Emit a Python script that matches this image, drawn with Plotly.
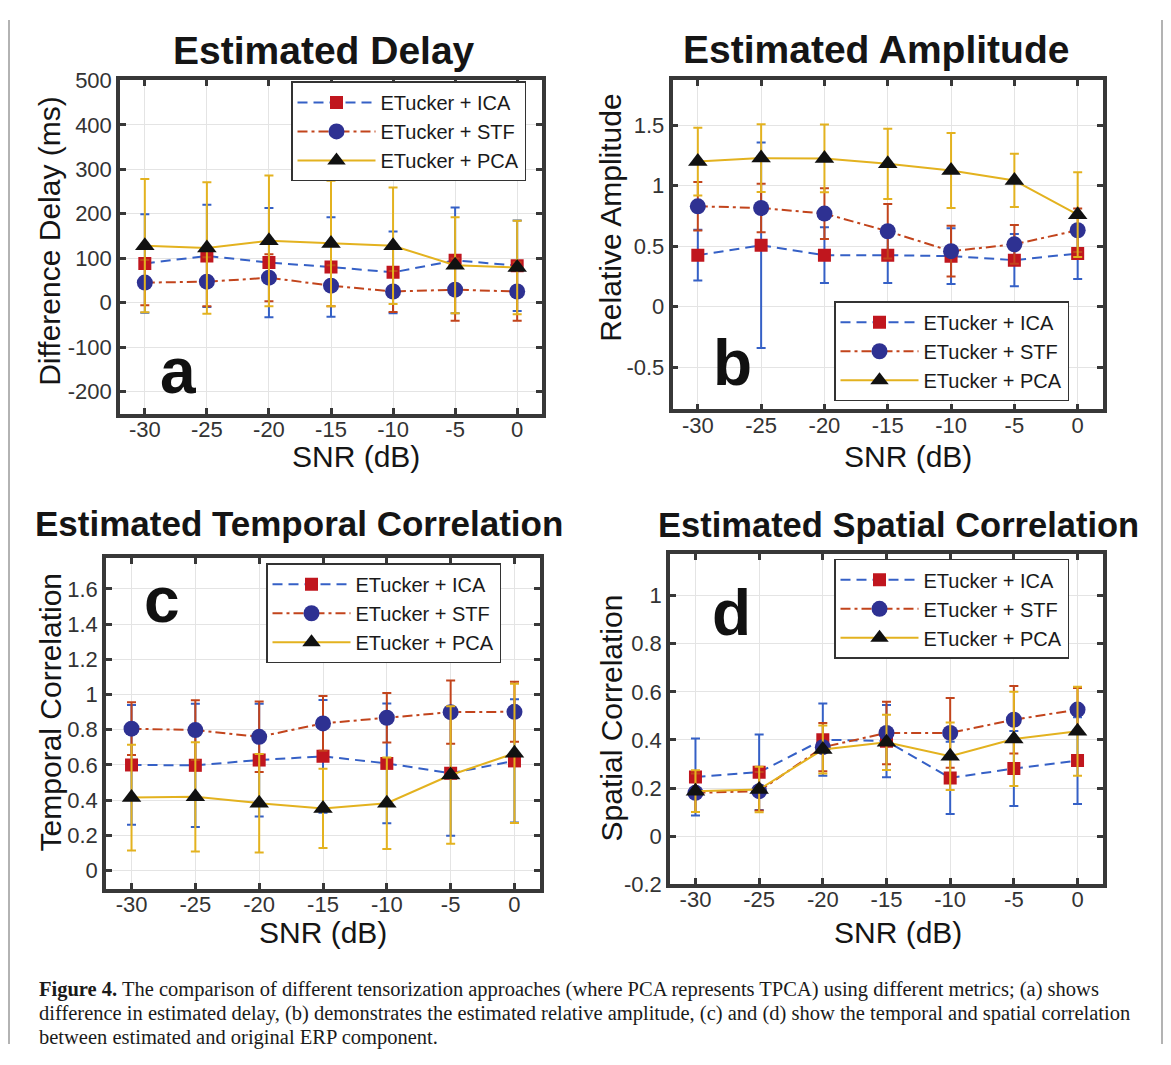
import plotly.graph_objects as go

# reference canvas size; the HTML body adds an 8px margin, so the figure is
# made 16px smaller and every reference pixel position is mapped onto it.
W, H = 1171, 1065
OFF = 8
FW, FH = W - 2 * OFF, H - 2 * OFF
# empirical vertical correction observed between page and photograph
YA, YS = 10.2, 0.977

snr = [-30, -25, -20, -15, -10, -5, 0]
names = ["ETucker + ICA", "ETucker + STF", "ETucker + PCA"]

# Panel a: Estimated Delay (ms)
a_ica = [88, 105, 90, 80, 68, 95, 83]
a_ica_err = [111, 115, 123, 112, 92, 119, 102]
a_stf = [45, 47, 56, 38, 25, 29, 25]
a_stf_err = [51, 55, 53, 46, 46, 70, 66]
a_pca = [128, 123, 139, 133, 128, 84, 79]
a_pca_err = [150, 148, 147, 141, 131, 108, 105]

# Panel b: Relative amplitude
b_ica = [0.426, 0.508, 0.426, 0.426, 0.418, 0.385, 0.44]
b_ica_err = [0.21, 0.85, 0.23, 0.23, 0.23, 0.215, 0.21]
b_stf = [0.83, 0.816, 0.77, 0.624, 0.459, 0.516, 0.632]
b_stf_err = [0.2, 0.2, 0.21, 0.225, 0.21, 0.16, 0.18]
b_pca = [1.20, 1.228, 1.225, 1.181, 1.126, 1.044, 0.761]
b_pca_err = [0.28, 0.28, 0.28, 0.29, 0.31, 0.22, 0.35]

# Panel c: Temporal correlation
c_ica = [0.60, 0.598, 0.628, 0.649, 0.609, 0.553, 0.623]
c_ica_err = [0.34, 0.35, 0.32, 0.32, 0.34, 0.355, 0.35]
c_stf = [0.806, 0.798, 0.76, 0.836, 0.868, 0.90, 0.902]
c_stf_err = [0.15, 0.17, 0.2, 0.155, 0.14, 0.18, 0.17]
c_pca = [0.415, 0.419, 0.383, 0.353, 0.383, 0.543, 0.666]
c_pca_err = [0.30, 0.31, 0.28, 0.225, 0.26, 0.39, 0.395]

# Panel d: Spatial correlation
d_ica = [0.246, 0.266, 0.401, 0.395, 0.242, 0.281, 0.314]
d_ica_err = [0.16, 0.157, 0.15, 0.15, 0.15, 0.156, 0.18]
d_stf = [0.18, 0.187, 0.37, 0.429, 0.429, 0.484, 0.526]
d_stf_err = [0.08, 0.08, 0.1, 0.13, 0.145, 0.14, 0.09]
d_pca = [0.187, 0.194, 0.36, 0.39, 0.332, 0.404, 0.436]
d_pca_err = [0.087, 0.095, 0.1, 0.115, 0.14, 0.196, 0.185]

x_ticks = [-30, -25, -20, -15, -10, -5, 0]
a_yticks = [-200, -100, 0, 100, 200, 300, 400, 500]
b_yticks = [-0.5, 0, 0.5, 1, 1.5]
b_ytext = ["-0.5", "0", "0.5", "1", "1.5"]
c_yticks = [0, 0.2, 0.4, 0.6, 0.8, 1, 1.2, 1.4, 1.6]
c_ytext = ["0", "0.2", "0.4", "0.6", "0.8", "1", "1.2", "1.4", "1.6"]
d_yticks = [-0.2, 0, 0.2, 0.4, 0.6, 0.8, 1]
d_ytext = ["-0.2", "0", "0.2", "0.4", "0.6", "0.8", "1"]

titles = ["Estimated Delay", "Estimated Amplitude",
          "Estimated Temporal Correlation", "Estimated Spatial Correlation"]
ytitles = ["Difference Delay (ms)", "Relative Amplitude",
           "Temporal Correlation", "Spatial Correlation"]
letters = ["a", "b", "c", "d"]
caption_lines = [
    "<b>Figure 4.</b> The comparison of different tensorization approaches (where PCA represents TPCA) using different metrics; (a) shows",
    "difference in estimated delay, (b) demonstrates the estimated relative amplitude, (c) and (d) show the temporal and spatial correlation",
    "between estimated and original ERP component.",
]

FONT = "Liberation Sans, Arial, Helvetica, sans-serif"
SERIF = "Liberation Serif, Times New Roman, serif"
C_ICA_LINE = "#3560c6"
C_ICA_MK = "#c0161e"
C_STF_LINE = "#c2441c"
C_STF_MK = "#2e3192"
C_PCA_LINE = "#e3b21f"
C_PCA_MK = "#111111"
FRAME = "#383838"


def px_x(p):
    return (p - OFF) / FW


def px_y(p):
    q = (p - YA) / YS
    return 1 - (q - OFF) / FH


# panel boxes in reference pixels: (left, right, top, bottom)
boxes = [(120, 542, 78.5, 412), (672.5, 1103, 78.5, 407.7),
         (106, 540, 556.7, 887.7), (670, 1103, 552.7, 883)]
yranges = [[-250, 500], [-0.848, 1.87], [-0.104, 1.774], [-0.2, 1.172]]
yticks = [(a_yticks, [str(v) for v in a_yticks]), (b_yticks, b_ytext),
          (c_yticks, c_ytext), (d_yticks, d_ytext)]

data = [
    (a_ica, a_ica_err, a_stf, a_stf_err, a_pca, a_pca_err),
    (b_ica, b_ica_err, b_stf, b_stf_err, b_pca, b_pca_err),
    (c_ica, c_ica_err, c_stf, c_stf_err, c_pca, c_pca_err),
    (d_ica, d_ica_err, d_stf, d_stf_err, d_pca, d_pca_err),
]

fig = go.Figure()

for i, (ica, ica_e, stf, stf_e, pca, pca_e) in enumerate(data):
    xa = "x" if i == 0 else f"x{i+1}"
    ya = "y" if i == 0 else f"y{i+1}"
    lg = "legend" if i == 0 else f"legend{i+1}"
    fig.add_trace(go.Scatter(
        x=snr, y=ica, name=names[0], mode="lines+markers",
        line=dict(color=C_ICA_LINE, width=2, dash="10px,6px"),
        marker=dict(symbol="square", size=13, color=C_ICA_MK, line=dict(width=0)),
        error_y=dict(type="data", array=ica_e, color=C_ICA_LINE, thickness=2, width=4.5),
        xaxis=xa, yaxis=ya, legend=lg))
    fig.add_trace(go.Scatter(
        x=snr, y=stf, name=names[1], mode="lines+markers",
        line=dict(color=C_STF_LINE, width=2, dash="10px,4px,3px,4px"),
        marker=dict(symbol="circle", size=16, color=C_STF_MK, line=dict(width=0)),
        error_y=dict(type="data", array=stf_e, color=C_STF_LINE, thickness=2, width=4.5),
        xaxis=xa, yaxis=ya, legend=lg))
    fig.add_trace(go.Scatter(
        x=snr, y=pca, name=names[2], mode="lines+markers",
        line=dict(color=C_PCA_LINE, width=2),
        marker=dict(symbol="triangle-up", size=17, color=C_PCA_MK, line=dict(width=0)),
        error_y=dict(type="data", array=pca_e, color=C_PCA_LINE, thickness=2, width=4.5),
        xaxis=xa, yaxis=ya, legend=lg))

layout = dict(
    width=FW, height=FH, margin=dict(l=0, r=0, t=0, b=0),
    paper_bgcolor="white", plot_bgcolor="white",
    font=dict(family=FONT, color="#262626"),
)

common = dict(
    ticks="inside", ticklen=6, tickwidth=3, tickcolor=FRAME,
    showline=True, linewidth=3.5, linecolor=FRAME, mirror="ticks",
    showgrid=True, gridcolor="#e4e4e4", gridwidth=1, zeroline=False,
    tickfont=dict(family=FONT, size=22, color="#333333"),
)

for i in range(4):
    l, r, t, b = boxes[i]
    xs = "xaxis" if i == 0 else f"xaxis{i+1}"
    ys = "yaxis" if i == 0 else f"yaxis{i+1}"
    anc_x = "y" if i == 0 else f"y{i+1}"
    anc_y = "x" if i == 0 else f"x{i+1}"
    layout[xs] = dict(domain=[px_x(l), px_x(r)], range=[-32, 2],
                      tickvals=x_ticks, ticktext=[str(v) for v in x_ticks],
                      anchor=anc_x, ticklabelstandoff=-7, **common)
    layout[ys] = dict(domain=[px_y(b), px_y(t)], range=yranges[i],
                      tickvals=yticks[i][0], ticktext=yticks[i][1],
                      anchor=anc_y, **common)

# legends (left, top in reference px)
leg_pos = [(291, 79.5), (834, 299.5), (266, 561.7), (834, 557.3)]
for i, (lx, ly) in enumerate(leg_pos):
    key = "legend" if i == 0 else f"legend{i+1}"
    layout[key] = dict(x=px_x(lx), y=px_y(ly), xanchor="left", yanchor="top",
                       bgcolor="white", bordercolor="#333333", borderwidth=1.5,
                       font=dict(family=FONT, size=20, color="#1a1a1a"),
                       itemwidth=78, tracegroupgap=0)

fig.update_layout(**layout)

ann = []
# titles
title_pos = [(324, 48.5, 39), (875.5, 48, 39), (299, 521.5, 35), (898.5, 523, 34.5)]
for i, (cx, cy, fs) in enumerate(title_pos):
    ann.append(dict(text=f"<b>{titles[i]}</b>", x=px_x(cx), y=px_y(cy),
                    xref="paper", yref="paper", xanchor="center", yanchor="middle",
                    showarrow=False, font=dict(family=FONT, size=fs, color="#151515")))
# x titles
xt_pos = [(356, 455), (908, 455), (323, 931), (898, 931)]
for cx, cy in xt_pos:
    ann.append(dict(text="SNR (dB)", x=px_x(cx), y=px_y(cy), xref="paper", yref="paper",
                    xanchor="center", yanchor="middle", showarrow=False,
                    font=dict(family=FONT, size=30, color="#151515")))
# y titles
yt_pos = [(50, 239), (611, 216), (50, 711), (611, 717)]
for i, (cx, cy) in enumerate(yt_pos):
    ann.append(dict(text=ytitles[i], x=px_x(cx), y=px_y(cy), xref="paper", yref="paper",
                    xanchor="center", yanchor="middle", textangle=-90, showarrow=False,
                    font=dict(family=FONT, size=30, color="#151515")))
# panel letters
let_pos = [(177.5, 369.5), (733, 361), (162, 599), (731, 612)]
for i, (cx, cy) in enumerate(let_pos):
    ann.append(dict(text=f"<b>{letters[i]}</b>", x=px_x(cx), y=px_y(cy), xref="paper",
                    yref="paper", xanchor="center", yanchor="middle", showarrow=False,
                    font=dict(family=FONT, size=64, color="#111111")))
# caption, one annotation per line
cap_y = [988, 1012, 1036]
for line, cy in zip(caption_lines, cap_y):
    ann.append(dict(text=line, x=px_x(37), y=px_y(cy), xref="paper", yref="paper",
                    xanchor="left", yanchor="middle", align="left", showarrow=False,
                    font=dict(family=SERIF, size=20.5, color="#1a1a1a")))

fig.update_layout(annotations=ann)

# page border lines
fig.add_shape(type="line", xref="paper", yref="paper", x0=px_x(9), x1=px_x(9), y0=0, y1=1,
              line=dict(color="#9a9a9a", width=1.5))
fig.add_shape(type="line", xref="paper", yref="paper", x0=px_x(1162), x1=px_x(1162), y0=0, y1=1,
              line=dict(color="#9a9a9a", width=1.5))

fig.write_html("out.html")
